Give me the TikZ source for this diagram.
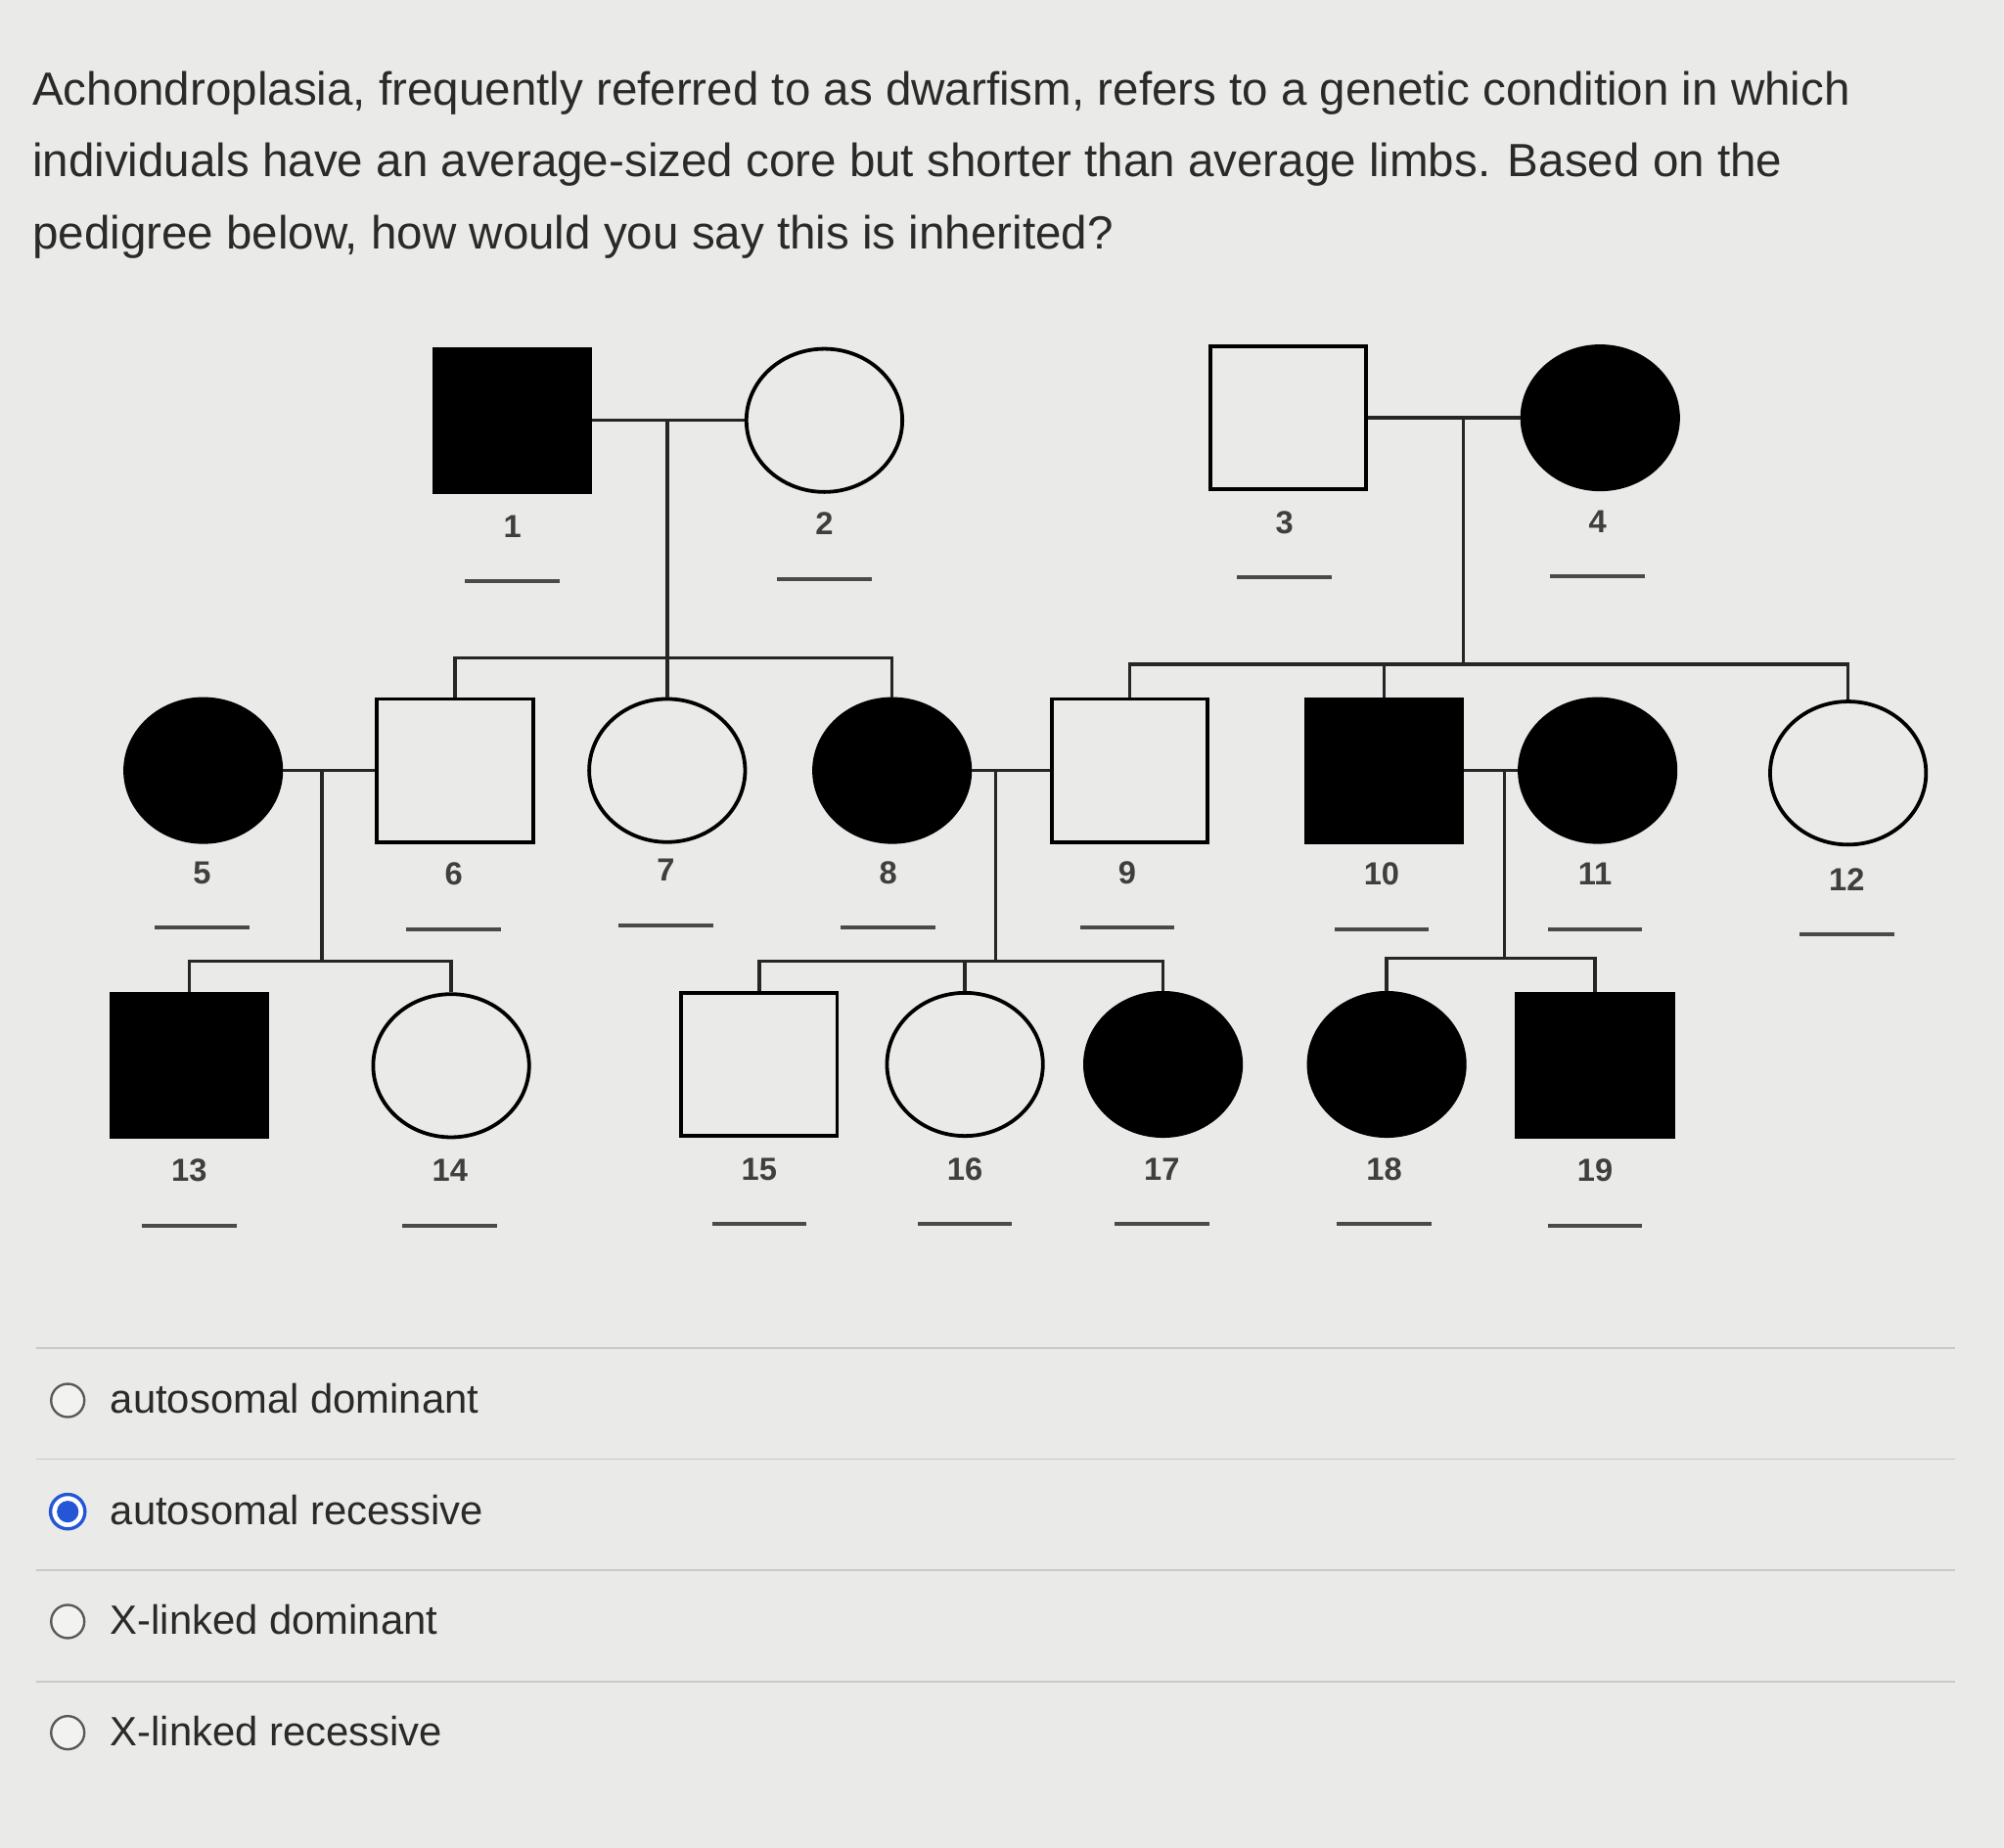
\documentclass[tikz,border=0pt]{standalone}
\usepackage{fontspec}
\setmainfont{Liberation Sans}
\usetikzlibrary{shapes.geometric}
\definecolor{bg}{HTML}{EAEAE8}
\definecolor{ink}{HTML}{2A2A2A}
\definecolor{sel}{HTML}{2456D6}
\definecolor{sepc}{HTML}{C9C9C7}
\begin{document}
\begin{tikzpicture}[x=0.5pt,y=-0.5pt,
  person/.style={draw=black, line width=1.45pt, fill=bg, inner sep=0pt},
  male/.style={person, rectangle, minimum width=61pt, minimum height=56pt},
  female/.style={person, ellipse, minimum width=61pt, minimum height=56pt},
  aff/.style={fill=black},
  link/.style={draw=black!85, line width=1.3pt},
  lab/.style={font=\fontsize{12.5}{14}\selectfont\bfseries, text=ink!90, inner sep=0pt},
  uline/.style={rectangle, fill=ink!85, minimum width=37pt, minimum height=1.5pt, inner sep=0pt},
  qtext/.style={font=\fontsize{18.2}{22}\selectfont, text=ink, anchor=base west, inner sep=0pt},
  otext/.style={font=\fontsize{16}{20}\selectfont, text=ink, anchor=base west, inner sep=0pt},
  radio/.style={circle, draw=black!65, line width=0.9pt, fill=bg!60!white, minimum size=13pt, inner sep=0pt},
  sepline/.style={draw=sepc, line width=0.6pt}
]
\fill[bg] (0,0) rectangle (1568,1446);
\useasboundingbox (0,0) rectangle (1568,1446);

% question
\node[qtext] (q1) at (25,82) {Achondroplasia, frequently referred to as dwarfism, refers to a genetic condition in which};
\node[qtext] (q2) at (25,138) {individuals have an average-sized core but shorter than average limbs. Based on the};
\node[qtext] (q3) at (25,195) {pedigree below, how would you say this is inherited?};

% generation I
\node[male,aff] (n1) at (401,329) {};
\node[female] (n2) at (645,329) {};
\node[male] (n3) at (1008,327) {};
\node[female,aff] (n4) at (1252,327) {};

% generation II
\node[female,aff] (n5) at (159,603) {};
\node[male] (n6) at (356,603) {};
\node[female] (n7) at (522,603) {};
\node[female,aff] (n8) at (698,603) {};
\node[male] (n9) at (884,603) {};
\node[male,aff] (n10) at (1083,603) {};
\node[female,aff] (n11) at (1250,603) {};
\node[female] (n12) at (1446,605) {};

% generation III
\node[male,aff] (n13) at (148,834) {};
\node[female] (n14) at (353,834) {};
\node[male] (n15) at (594,833) {};
\node[female] (n16) at (755,833) {};
\node[female,aff] (n17) at (910,833) {};
\node[female,aff] (n18) at (1085,833) {};
\node[male,aff] (n19) at (1248,834) {};

% labels
\foreach \i/\x/\y in {1/401/412,2/645/410,3/1005/409,4/1250/408,
  5/158/683,6/355/684,7/521/681,8/695/683,9/882/683,10/1081/684,11/1248/684,12/1445/688,
  13/148/916,14/352/916,15/594/915,16/755/915,17/909/915,18/1083/915,19/1248/916}{
  \node[lab] (t\i) at (\x,\y) {\i};
  \node[uline] (u\i) at (\x,\y+43) {};
}

% couples and sibships
\coordinate (m12) at (522,329);
\coordinate (s12) at (522,515);
\draw[link] (n1) -- (n2);
\draw[link] (m12) -- (n7.north);
\draw[link] (n6.north) |- (s12) -| (n8.north);

\coordinate (m34) at (1145,327);
\coordinate (s34) at (1145,520);
\draw[link] (n3) -- (n4);
\draw[link] (m34) -- (s34);
\draw[link] (n9.north) |- (s34) -| (n12.north);
\draw[link] (n10.north) -- (n10.north |- s34);

\coordinate (m56) at (252,603);
\coordinate (s56) at (252,752);
\draw[link] (n5) -- (n6);
\draw[link] (m56) -- (s56);
\draw[link] (n13.north) |- (s56) -| (n14.north);

\coordinate (m89) at (779,603);
\coordinate (s89) at (779,752);
\draw[link] (n8) -- (n9);
\draw[link] (m89) -- (s89);
\draw[link] (n15.north) |- (s89) -| (n17.north);
\draw[link] (n16.north) -- (n16.north |- s89);

\coordinate (m1011) at (1177,603);
\coordinate (s1011) at (1177,750);
\draw[link] (n10) -- (n11);
\draw[link] (m1011) -- (s1011);
\draw[link] (n18.north) |- (s1011) -| (n19.north);

% answer options
\foreach \yy/\k in {1055/a,1142/b,1229/c,1316/d}{
  \coordinate (sl\k) at (28,\yy);
  \coordinate (sr\k) at (1530,\yy);
  \draw[sepline] (sl\k) -- (sr\k);
}
\node[radio] (r1) at (53,1096) {};
\node[otext] (o1) at (86,1106) {autosomal dominant};
\node[circle, draw=sel, line width=1.3pt, fill=white, minimum size=13.5pt, inner sep=0pt] (r2) at (53,1183) {};
\node[circle, fill=sel, minimum size=8.5pt, inner sep=0pt] (r2in) at (r2.center) {};
\node[otext] (o2) at (86,1193) {autosomal recessive};
\node[radio] (r3) at (53,1269) {};
\node[otext] (o3) at (86,1279) {X-linked dominant};
\node[radio] (r4) at (53,1356) {};
\node[otext] (o4) at (86,1366) {X-linked recessive};
\end{tikzpicture}
\end{document}
